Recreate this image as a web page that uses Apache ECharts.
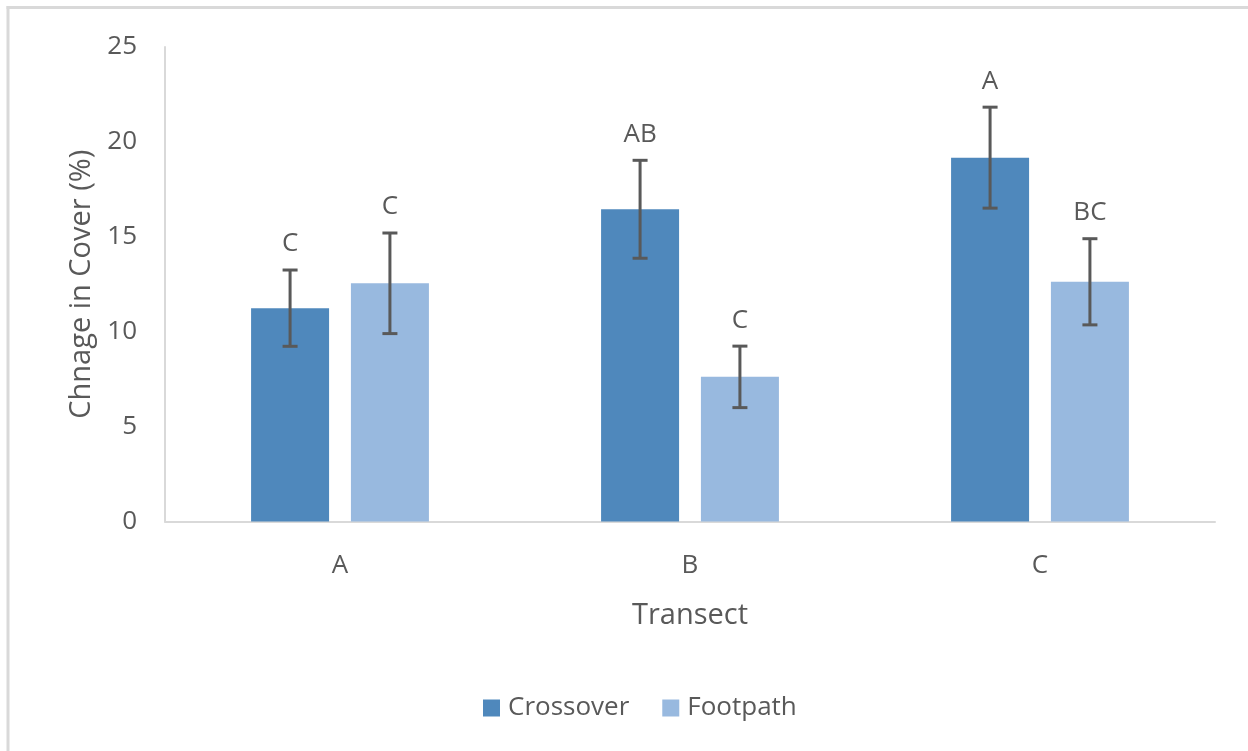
<!DOCTYPE html>
<html>
<head>
<meta charset="utf-8">
<script src="https://cdn.jsdelivr.net/npm/echarts@6/dist/echarts.min.js"></script>
<style>
  html, body { margin: 0; padding: 0; background: #fff; }
  #chart { width: 1248px; height: 751px; }
</style>
</head>
<body>
<div id="chart"></div>
<script>
// Transects on the x axis
const categories = ['A', 'B', 'C'];
// Mean change in cover (%) per transect
const crossoverMean = [11.24, 16.45, 19.17];
const footpathMean = [12.55, 7.62, 12.63];
// Error bar half-widths
const crossoverErr = [2.01, 2.58, 2.66];
const footpathErr = [2.65, 1.62, 2.27];
// Significance letters shown above each bar
const crossoverLetters = ['C', 'AB', 'A'];
const footpathLetters = ['C', 'C', 'BC'];
const yTicks = [0, 5, 10, 15, 20, 25];

const BAR_W = 78;
const BAR_GAP = 0.28;
const TEXT = '#595959';
const FONT = '"Open Sans", sans-serif';

function errorSeries(name, means, errs, letters, side) {
  return {
    type: 'custom',
    name: name + ' error',
    z: 10,
    silent: true,
    data: means.map((m, i) => [i, m, errs[i]]),
    renderItem: function (params, api) {
      const i = api.value(0), m = api.value(1), e = api.value(2);
      const label = letters[params.dataIndex];
      const shift = side * (BAR_W + BAR_W * BAR_GAP) / 2;
      const hi = api.coord([i, m + e]);
      const lo = api.coord([i, m - e]);
      const x = hi[0] + shift;
      const cap = 7.5;
      const st = { stroke: '#595959', lineWidth: 3 };
      return {
        type: 'group',
        children: [
          { type: 'line', shape: { x1: x, y1: hi[1], x2: x, y2: lo[1] }, style: st },
          { type: 'line', shape: { x1: x - cap, y1: hi[1], x2: x + cap, y2: hi[1] }, style: st },
          { type: 'line', shape: { x1: x - cap, y1: lo[1], x2: x + cap, y2: lo[1] }, style: st },
          {
            type: 'text',
            style: {
              x: x, y: hi[1] - 26, text: label,
              fill: TEXT, font: '26px ' + FONT,
              textAlign: 'center', textVerticalAlign: 'middle'
            }
          }
        ]
      };
    }
  };
}

const chart = echarts.init(document.getElementById('chart'), null, { renderer: 'canvas' });
chart.setOption({
  backgroundColor: '#ffffff',
  animation: false,
  textStyle: { fontFamily: FONT },
  graphic: [
    { type: 'line', shape: { x1: 6.5, y1: 7.5, x2: 1248, y2: 7.5 }, style: { stroke: '#d9d9d9', lineWidth: 3 } },
    { type: 'line', shape: { x1: 8, y1: 6, x2: 8, y2: 751 }, style: { stroke: '#d9d9d9', lineWidth: 3 } }
  ],
  grid: { left: 165, right: 33, top: 47, bottom: 229.5 },
  legend: {
    data: ['Crossover', 'Footpath'],
    left: 478, top: 690,
    icon: 'rect', itemWidth: 17, itemHeight: 17, itemGap: 33,
    textStyle: { color: TEXT, fontSize: 26, fontFamily: FONT, padding: [0, 0, 0, 3] }
  },
  xAxis: {
    type: 'category',
    data: categories,
    name: 'Transect',
    nameLocation: 'middle',
    nameGap: 80,
    nameTextStyle: { color: TEXT, fontSize: 29, fontFamily: FONT },
    axisLine: { lineStyle: { color: '#d9d9d9', width: 2 } },
    axisTick: { show: false },
    axisLabel: { color: TEXT, fontSize: 26, margin: 31, fontFamily: FONT }
  },
  yAxis: {
    type: 'value',
    min: yTicks[0], max: yTicks[yTicks.length - 1], interval: 5,
    name: 'Chnage in Cover (%)',
    nameLocation: 'middle',
    nameGap: 69,
    nameTextStyle: { color: TEXT, fontSize: 29, fontFamily: FONT },
    axisLine: { show: true, lineStyle: { color: '#d9d9d9', width: 2 } },
    axisTick: { show: false },
    splitLine: { show: false },
    axisLabel: { color: TEXT, fontSize: 26, margin: 28, fontFamily: FONT }
  },
  series: [
    {
      type: 'bar', name: 'Crossover', data: crossoverMean,
      barWidth: BAR_W, barGap: (BAR_GAP * 100) + '%',
      itemStyle: { color: '#4f88bc' }
    },
    {
      type: 'bar', name: 'Footpath', data: footpathMean,
      barWidth: BAR_W,
      itemStyle: { color: '#98b9df' }
    },
    errorSeries('Crossover', crossoverMean, crossoverErr, crossoverLetters, -1),
    errorSeries('Footpath', footpathMean, footpathErr, footpathLetters, 1)
  ]
});
</script>
</body>
</html>
